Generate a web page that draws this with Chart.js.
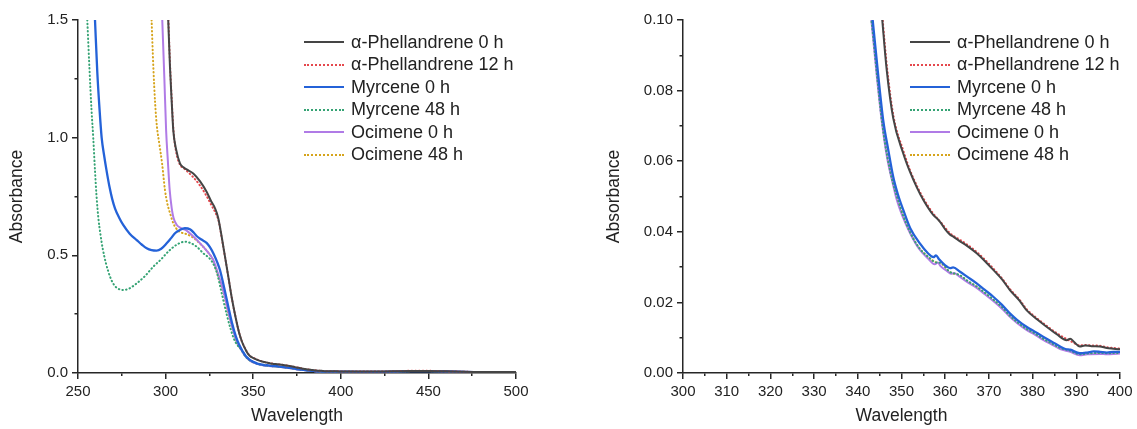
<!DOCTYPE html>
<html lang="en">
<head>
<meta charset="UTF-8">
<title>Absorbance spectra</title>
<script src="https://cdn.jsdelivr.net/npm/chart.js"></script>
<style>
  body { margin: 0; background: #fff; font-family: "Liberation Sans", Arial, sans-serif; }
  #wrap { position: relative; width: 1137px; height: 429px; }
  canvas { position: absolute; top: 0; }
  .legend { position: absolute; top: 31px; color: #222; font-size: 18px; }
  .legend .row { display: flex; align-items: center; height: 22.5px; white-space: nowrap; }
  .legend .swatch { width: 40px; margin-right: 7px; }
</style>
</head>
<body>
<div id="wrap">
  <canvas id="fullChart" width="560" height="429" style="left:0"></canvas>
  <canvas id="zoomChart" width="557" height="429" style="left:580px"></canvas>
  <div class="legend" id="legendFull" style="left:304px"></div>
  <div class="legend" id="legendZoom" style="left:910px"></div>
</div>

<script>
// [wavelength (nm), absorbance]
const phel0 = [[301.5,1.5],[302.5,1.3],[303.5,1.15],[304.4,1.03],[306,0.95],[308.2,0.891],[310,0.875],[312,0.865],
  [315.8,0.848],[319.6,0.815],[323.4,0.77],[326,0.73],[328.2,0.7],[330,0.66],[332,0.58],[334,0.49],[336,0.4],
  [338,0.31],[340,0.235],[342,0.17],[343.5,0.135],[344.6,0.115],[345.6,0.1],[346.6,0.086],[348.1,0.0722],[350.4,0.0622],
  [352,0.0568],[353.5,0.0526],[355,0.049],[357.3,0.0447],[358.2,0.0437],[359,0.0425],[360,0.0407],[361.1,0.0392],
  [362,0.0385],[363.4,0.0373],[365,0.036],[367.2,0.0339],[369,0.0318],[371,0.0292],[373,0.0265],[374.8,0.0235],
  [377,0.0205],[378.6,0.0178],[381,0.0152],[383.2,0.0131],[385.5,0.011],[387.8,0.0093],[388.6,0.0097],[389.5,0.0088],
  [390.8,0.0075],[392,0.0078],[393.5,0.0076],[395.4,0.0075],[397,0.0071],[398.5,0.0069],[400,0.0067],
  [410,0.006],[420,0.006],[430,0.007],[440,0.009],[450,0.009],[460,0.007],[470,0.005],[480,0.004],[490,0.004],[500,0.004]];

const phel12 = [[301.6,1.5],[302.6,1.3],[303.6,1.15],[304.5,1.03],[306,0.94],[308.2,0.885],[310.1,0.872],[313,0.852],
  [316,0.83],[319.6,0.797],[323,0.757],[326,0.715],[328.5,0.68],[330.3,0.645],[332,0.575],[334,0.49],[336,0.4],
  [338,0.31],[340,0.235],[342,0.17],[343.5,0.135],[344.6,0.116],[345.7,0.1],[346.7,0.0865],[348.2,0.0726],[350.5,0.0627],
  [352,0.0573],[353.5,0.0531],[355,0.0495],[357.3,0.0451],[359,0.0427],[361.1,0.0396],[363.4,0.0377],[365,0.0364],
  [367.2,0.0343],[369,0.0322],[371,0.0296],[373,0.0268],[374.8,0.0238],[377,0.0208],[378.6,0.0181],[381,0.0155],
  [383.2,0.0134],[385.5,0.0113],[387.8,0.0096],[389,0.0088],[390.8,0.0078],[392,0.0079],[393.5,0.0078],[395.4,0.0077],
  [397,0.0073],[398.5,0.0071],[400,0.0069],[410,0.0062],[420,0.0062],[430,0.0072],[440,0.0092],[450,0.0092],
  [460,0.0072],[470,0.0052],[480,0.0042],[490,0.0042],[500,0.0042]];

const myr0 = [[259.7,1.5],[261,1.28],[262.3,1.12],[263.5,1.0],[265,0.92],[266.3,0.86],[268,0.79],[269.5,0.74],
  [271.1,0.7],[273.5,0.66],[275.9,0.628],[279.5,0.592],[283.5,0.565],[286.5,0.545],[289.2,0.53],[292,0.522],
  [294.9,0.52],[297.5,0.528],[300.6,0.551],[303,0.572],[305.5,0.595],[308.2,0.608],[311,0.615],[313.9,0.611],
  [316,0.597],[317.7,0.582],[320.5,0.567],[323.4,0.553],[325.3,0.535],[327.5,0.505],[329.5,0.47],[331,0.438],
  [333.5,0.36],[335.8,0.282],[338,0.21],[340,0.158],[342,0.12],[343.4,0.1],[344.7,0.084],[345.8,0.0717],[347,0.063],
  [348.1,0.0556],[349.2,0.0505],[350.4,0.0462],[352,0.041],[354.2,0.0367],[356,0.034],[357.3,0.0328],[357.9,0.0333],
  [358.6,0.0322],[360,0.0305],[361.1,0.0297],[361.8,0.0299],[363.4,0.0287],[365,0.0273],[367.2,0.0254],[369,0.0236],
  [371,0.0216],[373,0.0193],[374.8,0.0169],[376.5,0.015],[378.6,0.0131],[380.5,0.0117],[382.4,0.0103],[384.5,0.0088],
  [386.3,0.0075],[387.5,0.0068],[388.6,0.0066],[390.8,0.0056],[392.5,0.0058],[394,0.0061],[395.4,0.006],[397,0.0058],
  [398.5,0.006],[400,0.006],[410,0.005],[420,0.005],[430,0.006],[440,0.008],[450,0.008],[460,0.007],[470,0.005],
  [480,0.004],[490,0.004],[500,0.004]];

const myr48 = [[255.3,1.5],[256.5,1.3],[257.7,1.12],[258.7,1.0],[259.7,0.86],[260.6,0.75],[261.6,0.66],[262.8,0.59],
  [264.2,0.525],[266,0.465],[268.3,0.409],[270.1,0.38],[272.1,0.362],[275.9,0.353],[279,0.358],[283.5,0.381],[288,0.41],[293,0.452],
  [297,0.48],[302.5,0.523],[307,0.548],[311,0.558],[314,0.553],[317.7,0.537],[321.5,0.509],[325.3,0.485],[327.5,0.46],
  [329.5,0.42],[332,0.34],[335,0.245],[337,0.19],[339,0.145],[341,0.118],[342.2,0.108],[343.2,0.099],[344.5,0.083],
  [345.6,0.0705],[346.8,0.061],[348,0.054],[349.2,0.049],[350.3,0.0448],[352,0.0398],[354,0.0355],[356,0.033],
  [358,0.0313],[359,0.0312],[361,0.0287],[363.4,0.0277],[365,0.0262],[367.2,0.0245],[369,0.0228],[371,0.0208],
  [373,0.0186],[374.8,0.0162],[376.5,0.0144],[378.6,0.0125],[380.5,0.0112],[382.4,0.0097],[384.5,0.0083],
  [386.3,0.0071],[388.6,0.0063],[390.8,0.0053],[392.5,0.0055],[395.4,0.0057],[397,0.0056],[400,0.0057],
  [410,0.005],[420,0.005],[430,0.006],[440,0.008],[450,0.008],[460,0.007],[470,0.005],[480,0.004],[490,0.004],[500,0.004]];

const oci0 = [[298.1,1.5],[299.3,1.25],[300.3,1.03],[301.3,0.9],[302.3,0.78],[303.5,0.7],[304.5,0.66],[306.3,0.63],
  [309,0.615],[312,0.605],[315.8,0.58],[319.6,0.552],[323.4,0.52],[327.2,0.48],[330,0.42],[332.9,0.35],[335.8,0.26],
  [338.6,0.18],[340.6,0.135],[342,0.112],[343.1,0.1],[344.4,0.0835],[345.5,0.0712],[346.7,0.061],[347.9,0.0542],
  [349,0.0487],[350.2,0.0445],[352,0.0395],[354,0.0352],[356,0.0325],[357.6,0.0308],[358.3,0.0313],[359,0.0302],
  [360.5,0.0288],[361.3,0.0281],[362,0.0283],[363.4,0.0272],[365,0.0258],[367.2,0.0241],[369,0.0224],[371,0.0204],
  [373,0.0182],[374.8,0.0159],[376.5,0.0141],[378.6,0.0122],[380.5,0.0109],[382.4,0.0094],[384.5,0.008],[386.3,0.0068],
  [388.6,0.006],[390.8,0.005],[392.5,0.0053],[395.4,0.0054],[397,0.0053],[400,0.0055],
  [410,0.005],[420,0.005],[430,0.006],[440,0.008],[450,0.008],[460,0.007],[470,0.005],[480,0.004],[490,0.004],[500,0.004]];

const oci48 = [[292,1.5],[293,1.3],[294,1.15],[295,1.05],[296.5,0.97],[298,0.89],[299.6,0.78],[301,0.72],[302.5,0.68],
  [304.4,0.636],[306,0.615],[308,0.6],[310,0.594],[312,0.59],[315.8,0.575],[319.6,0.55],[323.4,0.52],[327.2,0.478],
  [330,0.415],[332.9,0.345],[335.8,0.255],[338.6,0.18],[340.6,0.133],[342,0.112],[343.2,0.1],[344.5,0.084],
  [345.6,0.0715],[346.8,0.0612],[348,0.0545],[349.2,0.049],[350.3,0.0448],[352,0.0398],[354,0.0355],[356,0.033],
  [358,0.0313],[359,0.0311],[361,0.0286],[363.4,0.0276],[365,0.0261],[367.2,0.0244],[369,0.0227],[371,0.0207],
  [373,0.0185],[374.8,0.0161],[376.5,0.0143],[378.6,0.0124],[380.5,0.0111],[382.4,0.0096],[384.5,0.0082],
  [386.3,0.007],[388.6,0.0062],[390.8,0.0052],[392.5,0.0054],[395.4,0.0056],[397,0.0055],[400,0.0056],
  [410,0.005],[420,0.005],[430,0.006],[440,0.008],[450,0.008],[460,0.007],[470,0.005],[480,0.004],[490,0.004],[500,0.004]];

const seriesData = [phel0, phel12, myr0, myr48, oci0, oci48];
const seriesLabels = ['α-Phellandrene 0 h', 'α-Phellandrene 12 h', 'Myrcene 0 h', 'Myrcene 48 h', 'Ocimene 0 h', 'Ocimene 48 h'];
const seriesColors = ['#454545', '#e5484d', '#2462d8', '#35a374', '#b07be6', '#d6a41c'];
const seriesDotted = [false, true, false, true, false, true];
const seriesWidths = [2, 2, 2.3, 2, 2, 2];

function buildDatasets() {
    return seriesData.map((pts, i) => ({
        label: seriesLabels[i],
        data: pts.map(p => ({ x: p[0], y: p[1] })),
        borderColor: seriesColors[i],
        borderWidth: seriesWidths[i],
        borderDash: seriesDotted[i] ? [0.5, 3.2] : [],
        borderCapStyle: seriesDotted[i] ? 'round' : 'butt',
        pointRadius: 0,
        cubicInterpolationMode: 'monotone',
        fill: false
    }));
}

const axisColor = '#262626';

// every second tick is a minor one: short mark, no label
function makeAxis(min, max, step, digits, title, minorDash, titlePad, fitFn) {
    return {
        type: 'linear', min: min, max: max,
        afterFit: fitFn,
        border: { display: true, color: axisColor, width: 1.5 },
        grid: {
            drawOnChartArea: false, drawTicks: true, tickLength: 6,
            color: axisColor, lineWidth: 1.5,
            tickBorderDash: ctx => (ctx.index % 2 ? minorDash : [])
        },
        ticks: {
            stepSize: step, autoSkip: false, maxRotation: 0, padding: 4,
            color: '#222', font: { size: 15, family: '"Liberation Sans", Arial, sans-serif' },
            callback: (v, i) => (i % 2 ? '' : v.toFixed(digits))
        },
        title: {
            display: true, text: title, color: '#222',
            font: { size: 17.5, family: '"Liberation Sans", Arial, sans-serif' },
            padding: titlePad
        }
    };
}

function makeChart(id, xr, yr, yWidth, padRight, yTitlePad) {
    return new Chart(document.getElementById(id), {
        type: 'line',
        data: { datasets: buildDatasets() },
        options: {
            responsive: false,
            animation: false,
            layout: { padding: { top: 20, right: padRight, bottom: 0, left: 0 } },
            plugins: { legend: { display: false }, tooltip: { enabled: false } },
            scales: {
                x: makeAxis(xr[0], xr[1], xr[2], 0, 'Wavelength', [2.5, 20], { top: 0, bottom: 2 },
                    s => { s.height = 56; }),
                y: makeAxis(yr[0], yr[1], yr[2], yr[3], 'Absorbance', [0, 2.5, 20], { top: yTitlePad, bottom: 0 },
                    s => { s.width = yWidth; })
            }
        }
    });
}

makeChart('fullChart', [250, 500, 25], [0, 1.5, 0.25, 1], 78, 44, 7);
makeChart('zoomChart', [300, 400, 5], [0, 0.1, 0.01, 2], 103, 17, 24);

function buildLegend(id) {
    const box = document.getElementById(id);
    seriesLabels.forEach((label, i) => {
        const row = document.createElement('div');
        row.className = 'row';
        const sw = document.createElement('div');
        sw.className = 'swatch';
        sw.style.borderTop = (seriesDotted[i] ? '2px dotted ' : seriesWidths[i] > 2 ? '2.5px solid ' : '2px solid ') + seriesColors[i];
        const txt = document.createElement('span');
        txt.textContent = label;
        row.appendChild(sw);
        row.appendChild(txt);
        box.appendChild(row);
    });
}
buildLegend('legendFull');
buildLegend('legendZoom');
</script>
</body>
</html>
